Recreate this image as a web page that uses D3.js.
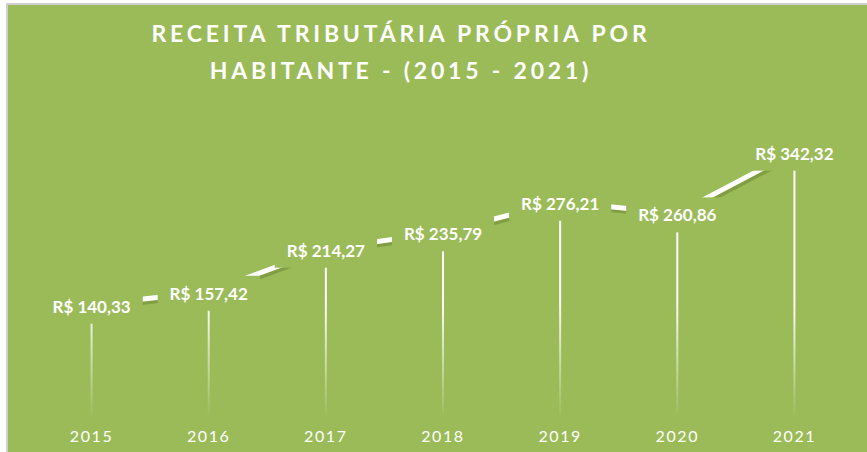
<!DOCTYPE html>
<html>
<head>
<meta charset="utf-8">
<script src="https://cdnjs.cloudflare.com/ajax/libs/d3/7.8.5/d3.min.js"></script>
<style>
  html, body { margin: 0; padding: 0; background: #fff; }
  svg { display: block; }
  .title { font-family: Lato, "Open Sans", sans-serif; font-weight: 700; fill: #fff; }
  .lbl { font-family: Lato, "Open Sans", sans-serif; font-weight: 700; fill: #fff; font-size: 17px; }
  .axis text { font-family: Lato, "Open Sans", sans-serif; fill: #fff; font-size: 16px; letter-spacing: 1.6px; }
</style>
</head>
<body>
<svg width="867" height="452"></svg>
<script>
// data
var years = ["2015", "2016", "2017", "2018", "2019", "2020", "2021"];
var values = [140.33, 157.42, 214.27, 235.79, 276.21, 260.86, 342.32];
var titleLines = ["RECEITA TRIBUTÁRIA PRÓPRIA POR", "HABITANTE - (2015 - 2021)"];

var svg = d3.select("svg"),
    width = 867,
    height = 452,
    green = "#9bbb59";

var points = years.map(function(y, i) { return {year: y, value: values[i]}; });

// frame
svg.append("rect").attr("x", 6).attr("y", 3).attr("width", width - 6).attr("height", height - 3)
  .attr("fill", "#d0d0d0");
svg.append("rect").attr("x", 8).attr("y", 5).attr("width", width - 8).attr("height", height - 5)
  .attr("fill", green);

var x = d3.scaleBand().domain(years).range([33, 853]).padding(0);
var y = d3.scaleLinear().domain([0, 400]).range([425, 122]);
var cx = function(d) { return x(d.year) + x.bandwidth() / 2; };

var defs = svg.append("defs");
var grad = defs.append("linearGradient")
  .attr("id", "dropFade")
  .attr("gradientUnits", "userSpaceOnUse")
  .attr("x1", 0).attr("x2", 0).attr("y1", 300).attr("y2", 418);
grad.append("stop").attr("offset", "0%").attr("stop-color", "#fff").attr("stop-opacity", 1);
grad.append("stop").attr("offset", "100%").attr("stop-color", "#fff").attr("stop-opacity", 0);

// title
svg.append("g").selectAll("text")
  .data(titleLines)
  .enter().append("text")
  .attr("class", "title")
  .attr("x", 401)
  .attr("y", function(d, i) { return 42 + i * 37; })
  .attr("text-anchor", "middle")
  .attr("font-size", 23)
  .attr("letter-spacing", 3.8)
  .text(function(d) { return d; });

// drop lines
svg.append("g").selectAll("line")
  .data(points)
  .enter().append("line")
  .attr("x1", cx).attr("x2", cx)
  .attr("y1", function(d) { return y(d.value); })
  .attr("y2", 418)
  .attr("stroke", "url(#dropFade)")
  .attr("stroke-width", 2);

// ribbon line (shifted up, 3d look)
var line = d3.line()
  .x(cx)
  .y(function(d) { return y(d.value) - 14; });

var ribbon = svg.append("g");
ribbon.append("path")
  .datum(points)
  .attr("d", line)
  .attr("transform", "translate(2,3)")
  .attr("fill", "none")
  .attr("stroke", "#6f8a35")
  .attr("stroke-opacity", 0.6)
  .attr("stroke-width", 5);
ribbon.append("path")
  .datum(points)
  .attr("d", line)
  .attr("fill", "none")
  .attr("stroke", "#fff")
  .attr("stroke-width", 5);

// labels with green boxes hiding the line
var labels = svg.append("g").selectAll("g")
  .data(points)
  .enter().append("g")
  .attr("transform", function(d) { return "translate(" + cx(d) + "," + (y(d.value) - 12) + ")"; });

labels.append("text")
  .attr("class", "lbl")
  .attr("text-anchor", "middle")
  .attr("y", 6)
  .text(function(d) { return "R$ " + d3.format(".2f")(d.value).replace(".", ","); });

labels.each(function() {
  var g = d3.select(this), bb = g.select("text").node().getBBox();
  g.insert("rect", "text")
    .attr("x", bb.x - 12).attr("y", bb.y - 7)
    .attr("width", bb.width + 24).attr("height", bb.height + 14)
    .attr("fill", green);
});

// x axis
svg.append("g")
  .attr("class", "axis")
  .attr("transform", "translate(0,425)")
  .call(d3.axisBottom(x).tickSize(0).tickPadding(2))
  .call(function(g) { g.select(".domain").remove(); })
  .selectAll("text")
  .attr("dy", "0.95em");
</script>
</body>
</html>
